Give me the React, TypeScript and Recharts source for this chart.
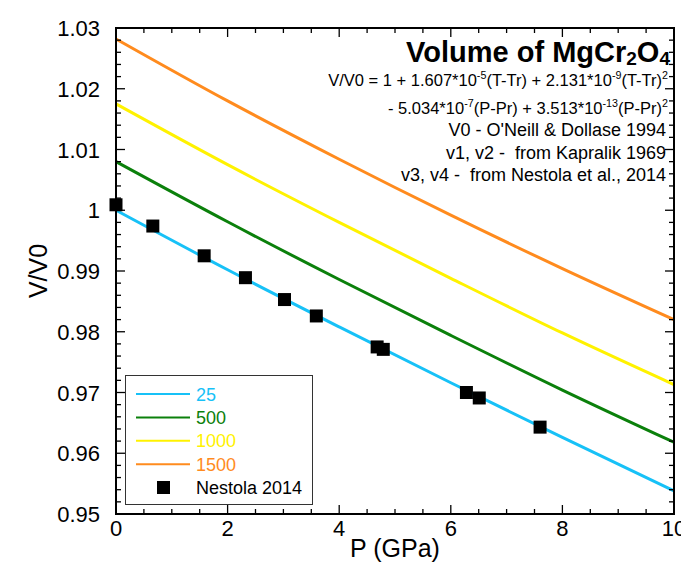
import {
  ComposedChart,
  Line,
  Scatter,
  XAxis,
  YAxis,
  ZAxis,
  Legend,
  Label,
  ReferenceArea,
} from "recharts";

// pressure grid (GPa) used for the model curves
const pressure = [0, 2, 4, 6, 8, 10];

// V/V0, one list per temperature
const v25 = [1.0, 0.9902, 0.9808, 0.9716, 0.9626, 0.9538];
const v500 = [1.008, 0.9981, 0.9886, 0.9794, 0.9704, 0.9618];
const v1000 = [1.0175, 1.0075, 0.998, 0.9888, 0.9798, 0.9713];
const v1500 = [1.0282, 1.018, 1.0084, 0.9992, 0.9904, 0.982];

// measured points, Nestola 2014
const nestolaP = [0, 0.66, 1.58, 2.32, 3.02, 3.59, 4.68, 4.79, 6.28, 6.51, 7.6];
const nestolaV = [
  1.0009, 0.9974, 0.9925, 0.9889, 0.9853, 0.9826, 0.9775, 0.9771, 0.97,
  0.9691, 0.9643,
];

const xTicks = [0, 2, 4, 6, 8, 10];
const yTicks = [0.95, 0.96, 0.97, 0.98, 0.99, 1, 1.01, 1.02, 1.03];

const series = [
  { key: "t25", label: "25", values: v25, color: "#17C1F7" },
  { key: "t500", label: "500", values: v500, color: "#0B800B" },
  { key: "t1000", label: "1000", values: v1000, color: "#FFF200" },
  { key: "t1500", label: "1500", values: v1500, color: "#FF8B1E" },
];

const curveData = pressure.map((p, i) => {
  const row: Record<string, number> = { p };
  series.forEach((s) => {
    row[s.key] = s.values[i];
  });
  return row;
});

const pointData = nestolaP.map((p, i) => ({ p, v: nestolaV[i] }));

// every tick position (majors get a label and a longer mark)
const xAll = Array.from({ length: 21 }, (_, i) => i * 0.5);
const yAll = Array.from({ length: 41 }, (_, i) =>
  Number((0.95 + i * 0.002).toFixed(3))
);
const isMajorX = (v: number) => xTicks.some((t) => Math.abs(t - v) < 1e-6);
const isMajorY = (v: number) => yTicks.some((t) => Math.abs(t - v) < 1e-6);

const FONT = "'Liberation Sans', Arial, Helvetica, sans-serif";
const W = 681;
const H = 560;
const MAJ = 9;
const MIN = 5;

const frame = { stroke: "#000", strokeWidth: 2 };
const mark = { stroke: "#000", strokeWidth: 1.3 };

// inward tick marks, drawn by each axis at its own tick positions
const BottomTick = (props: any) => {
  const { x, y, payload } = props;
  const major = isMajorX(payload.value);
  return (
    <g>
      <line x1={x} x2={x} y1={y} y2={y - (major ? MAJ : MIN)} {...mark} />
      {major && (
        <text x={x} y={y + 22} textAnchor="middle" fontSize={22} fill="#000">
          {payload.value}
        </text>
      )}
    </g>
  );
};

const TopTick = (props: any) => {
  const { x, y, payload } = props;
  const major = isMajorX(payload.value);
  return <line x1={x} x2={x} y1={y} y2={y + (major ? MAJ : MIN)} {...mark} />;
};

const LeftTick = (props: any) => {
  const { x, y, payload } = props;
  const major = isMajorY(payload.value);
  return (
    <g>
      <line x1={x} x2={x + (major ? MAJ : MIN)} y1={y} y2={y} {...mark} />
      {major && (
        <text x={x - 16} y={y + 8} textAnchor="end" fontSize={22} fill="#000">
          {payload.value}
        </text>
      )}
    </g>
  );
};

const RightTick = (props: any) => {
  const { x, y, payload } = props;
  const major = isMajorY(payload.value);
  return <line x1={x} x2={x - (major ? MAJ : MIN)} y1={y} y2={y} {...mark} />;
};

const renderLegend = () => (
  <div
    style={{
      width: 188,
      height: 130,
      boxSizing: "border-box",
      border: "1px solid #333",
      background: "#fff",
    }}
  >
    <svg width={186} height={128} style={{ display: "block" }}>
      {series.map((s, i) => (
        <g key={s.key}>
          <line
            x1={10}
            x2={64}
            y1={18 + i * 23.4}
            y2={18 + i * 23.4}
            stroke={s.color}
            strokeWidth={2}
          />
          <text
            x={70}
            y={18 + i * 23.4 + 6.5}
            fill={s.color}
            fontSize={18}
            fontFamily={FONT}
          >
            {s.label}
          </text>
        </g>
      ))}
      <rect x={31} y={105} width={13} height={13} fill="#000" />
      <text x={70} y={118} fill="#000" fontSize={18} fontFamily={FONT}>
        Nestola 2014
      </text>
    </svg>
  </div>
);

// superscript: raise, then drop back for the following text
const FS = 16.5;
const sup = (t: string) => (
  <tspan dy={-FS * 0.42} fontSize={FS * 0.65}>
    {t}
  </tspan>
);
const down = FS * 0.42;

export default function App() {
  return (
    <div style={{ position: "relative", width: W, height: H, fontFamily: FONT }}>
      <ComposedChart
        width={W}
        height={H}
        margin={{ top: 19, right: 14, bottom: 0, left: 0 }}
        style={{ fontFamily: FONT }}
      >
        <ZAxis range={[169, 169]} />
        <XAxis
          xAxisId="x"
          dataKey="p"
          type="number"
          domain={[0, 10]}
          ticks={xAll}
          interval={0}
          tickLine={false}
          axisLine={frame}
          height={54}
          tickSize={0}
          tickMargin={0}
          tick={BottomTick}
        >
          <Label
            value="P (GPa)"
            position="insideBottom"
            offset={11}
            style={{ fontSize: 25, fill: "#000" }}
          />
        </XAxis>
        <XAxis
          xAxisId="t"
          dataKey="p"
          type="number"
          orientation="top"
          domain={[0, 10]}
          ticks={xAll}
          interval={0}
          tickLine={false}
          axisLine={frame}
          height={1}
          tickSize={0}
          tickMargin={0}
          tick={TopTick}
        />
        <YAxis
          yAxisId="y"
          type="number"
          domain={[0.95, 1.03]}
          ticks={yAll}
          interval={0}
          tickLine={false}
          axisLine={frame}
          width={108}
          tickSize={0}
          tickMargin={0}
          tick={LeftTick}
        >
          <Label
            value="V/V0"
            position="insideLeft"
            angle={-90}
            offset={30}
            style={{ fontSize: 25, fill: "#000", textAnchor: "middle" }}
          />
        </YAxis>
        <YAxis
          yAxisId="r"
          type="number"
          orientation="right"
          domain={[0.95, 1.03]}
          ticks={yAll}
          interval={0}
          tickLine={false}
          axisLine={frame}
          width={1}
          tickSize={0}
          tickMargin={0}
          tick={RightTick}
        />

        {/* plot frame */}
        <ReferenceArea
          xAxisId="x"
          yAxisId="y"
          x1={0}
          x2={10}
          y1={0.95}
          y2={1.03}
          fill="none"
          fillOpacity={0}
          stroke="#000"
          strokeWidth={2}
          strokeOpacity={1}
          ifOverflow="visible"
        />

        {series.map((s) => (
          <Line
            key={s.key}
            xAxisId="t"
            yAxisId="r"
            data={curveData}
            dataKey={s.key}
            type="monotone"
            stroke={s.color}
            strokeWidth={3}
            dot={false}
            isAnimationActive={false}
          />
        ))}
        <Scatter
          xAxisId="x"
          yAxisId="y"
          data={pointData}
          dataKey="v"
          shape="square"
          fill="#000"
          isAnimationActive={false}
        />
        <Legend
          layout="vertical"
          align="center"
          verticalAlign="middle"
          wrapperStyle={{ position: "absolute", left: 117, top: 367, width: 188, height: 130 }}
          content={renderLegend}
        />
      </ComposedChart>

      <svg
        width={W}
        height={H}
        style={{ position: "absolute", left: 0, top: 0, pointerEvents: "none" }}
        fontFamily={FONT}
      >
        <text x={662} y={54} textAnchor="end" fontSize={29} fontWeight="bold" fill="#000">
          Volume of MgCr
          <tspan dy={3} fontSize={19}>2</tspan>
          <tspan dy={-3}>O</tspan>
          <tspan dy={3} fontSize={19}>4</tspan>
        </text>
        <text x={660} y={78} textAnchor="end" fontSize={FS} fill="#000">
          V/V0 = 1 + 1.607*10{sup("-5")}
          <tspan dy={down}>(T-Tr) + 2.131*10</tspan>
          {sup("-9")}
          <tspan dy={down}>(T-Tr)</tspan>
          {sup("2")}
        </text>
        <text x={660} y={106} textAnchor="end" fontSize={FS} fill="#000">
          - 5.034*10{sup("-7")}
          <tspan dy={down}>(P-Pr) + 3.513*10</tspan>
          {sup("-13")}
          <tspan dy={down}>(P-Pr)</tspan>
          {sup("2")}
        </text>
        <text x={658} y={128} textAnchor="end" fontSize={18} fill="#000">
          V0 - O'Neill &amp; Dollase 1994
        </text>
        <text x={658} y={151} textAnchor="end" fontSize={18} fill="#000" style={{ whiteSpace: "pre" }}>
          {"v1, v2 -  from Kapralik 1969"}
        </text>
        <text x={658} y={173} textAnchor="end" fontSize={18} fill="#000" style={{ whiteSpace: "pre" }}>
          {"v3, v4 -  from Nestola et al., 2014"}
        </text>
      </svg>
    </div>
  );
}
